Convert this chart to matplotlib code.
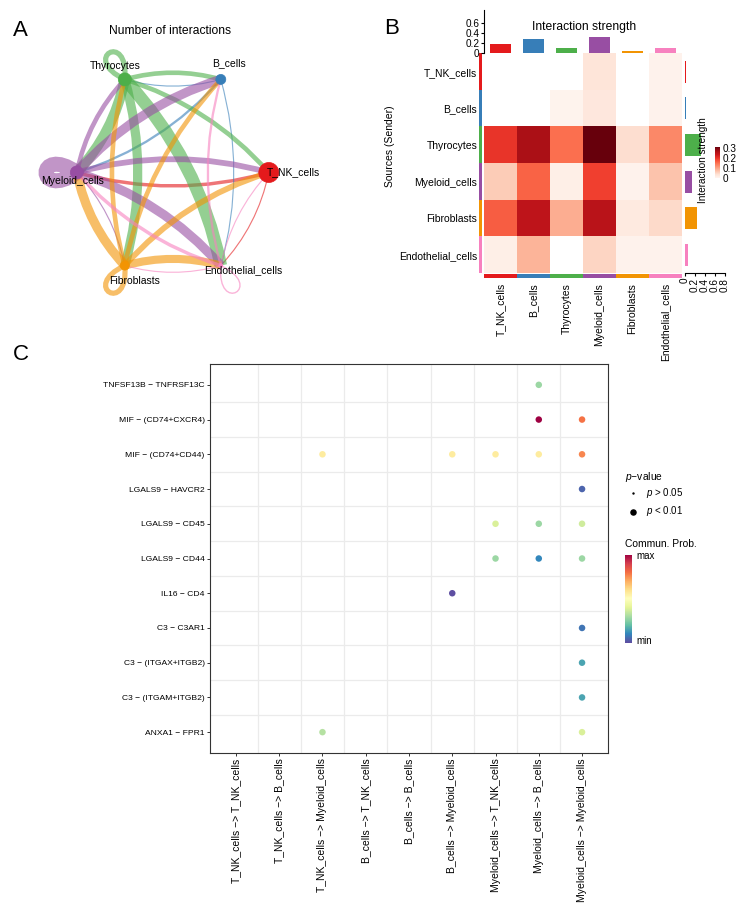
import numpy as np
import matplotlib
matplotlib.use("Agg")
import matplotlib.pyplot as plt
from matplotlib.path import Path
from matplotlib.patches import PathPatch, Circle
from matplotlib.cm import ScalarMappable
import matplotlib.colors as mcolors

plt.rcParams['font.family'] = ['Liberation Sans', 'DejaVu Sans']
plt.rcParams['mathtext.fontset'] = 'custom'
plt.rcParams['mathtext.it'] = 'Liberation Sans:italic'
plt.rcParams['mathtext.rm'] = 'Liberation Sans'

# ---------------- data ----------------
cell_types = ["T_NK_cells", "B_cells", "Thyrocytes", "Myeloid_cells", "Fibroblasts", "Endothelial_cells"]
cell_colors = ["#E41A1C", "#377EB8", "#4DAF4A", "#984EA3", "#F29403", "#F781BF"]
node_radius = [10, 5, 6.5, 6.5, 4.5, 2]

# number of interactions (rows = sender, cols = receiver)
n_interactions = [
    [0, 0, 0, 3, 0, 1],
    [0, 0, 1, 2, 0, 1],
    [4, 4, 4.5, 9, 8, 11],
    [5, 8, 4, 13, 1, 8],
    [5, 4, 4, 8, 4.5, 7],
    [1, 2, 0, 3, 1, 1.2],
]

# interaction strength (rows = sender, cols = receiver)
strength = [
    [0, 0, 0, 0.03, 0, 0.006],
    [0, 0, 0.004, 0.025, 0, 0.006],
    [0.20, 0.265, 0.15, 0.31, 0.04, 0.125],
    [0.06, 0.16, 0.012, 0.19, 0.006, 0.068],
    [0.165, 0.245, 0.09, 0.25, 0.02, 0.045],
    [0.012, 0.084, 0, 0.05, 0.006, 0.006],
]
strength_incoming = [0.17, 0.27, 0.09, 0.32, 0.035, 0.10]
strength_outgoing = [0.035, 0.025, 0.32, 0.155, 0.25, 0.065]
bar_ticks = [0, 0.2, 0.4, 0.6]
bar_ticks_right = [0, 0.2, 0.4, 0.6, 0.8]
strength_cbar_ticks = [0, 0.1, 0.2, 0.3]

lr_pairs = ["TNFSF13B \u2212 TNFRSF13C", "MIF \u2212 (CD74+CXCR4)", "MIF \u2212 (CD74+CD44)",
            "LGALS9 \u2212 HAVCR2", "LGALS9 \u2212 CD45", "LGALS9 \u2212 CD44", "IL16 \u2212 CD4",
            "C3 \u2212 C3AR1", "C3 \u2212 (ITGAX+ITGB2)", "C3 \u2212 (ITGAM+ITGB2)", "ANXA1 \u2212 FPR1"]
sender_receiver = ["T_NK_cells \u2212> T_NK_cells", "T_NK_cells \u2212> B_cells", "T_NK_cells \u2212> Myeloid_cells",
                   "B_cells \u2212> T_NK_cells", "B_cells \u2212> B_cells", "B_cells \u2212> Myeloid_cells",
                   "Myeloid_cells \u2212> T_NK_cells", "Myeloid_cells \u2212> B_cells", "Myeloid_cells \u2212> Myeloid_cells"]
nan = np.nan
comm_prob = [
    [nan, nan, nan, nan, nan, nan, nan, 0.28, nan],
    [nan, nan, nan, nan, nan, nan, nan, 1.00, 0.79],
    [nan, nan, 0.56, nan, nan, 0.56, 0.56, 0.56, 0.76],
    [nan, nan, nan, nan, nan, nan, nan, nan, 0.04],
    [nan, nan, nan, nan, nan, nan, 0.38, 0.28, 0.36],
    [nan, nan, nan, nan, nan, nan, 0.28, 0.10, 0.28],
    [nan, nan, nan, nan, nan, 0.00, nan, nan, nan],
    [nan, nan, nan, nan, nan, nan, nan, nan, 0.07],
    [nan, nan, nan, nan, nan, nan, nan, nan, 0.15],
    [nan, nan, nan, nan, nan, nan, nan, nan, 0.15],
    [nan, nan, 0.32, nan, nan, nan, nan, nan, 0.38],
]

# ---------------- figure ----------------
W, H = 748, 909
fig = plt.figure(figsize=(W / 100, H / 100), dpi=100)


def px_axes(x0, y0, x1, y1):
    return fig.add_axes([x0 / W, 1 - y1 / H, (x1 - x0) / W, (y1 - y0) / H])


# ---------------- Panel A: circle network ----------------
axA = px_axes(0, 0, 370, 310)
axA.set_xlim(0, 370)
axA.set_ylim(310, 0)
axA.axis('off')
cx, cy, rx, ry = 172.8, 172.5, 96, 107.5
angles = np.deg2rad(np.arange(6) * 60.0)
pos = np.c_[cx + rx * np.cos(angles), cy - ry * np.sin(angles)]
counts = np.array(n_interactions, float)
wmax_px = 15.0


def u(a):
    return np.array([np.cos(a), -np.sin(a)])


for i in range(6):
    for j in range(6):
        c = counts[i, j]
        if c <= 0:
            continue
        lw = c / counts.max() * wmax_px * 0.72
        p0 = pos[i]
        if i == j:
            th = angles[i]
            L, phi = 50.0, np.deg2rad(35)
            verts = [p0, p0 + L * u(th + phi), p0 + L * u(th - phi), p0]
            codes = [Path.MOVETO, Path.CURVE4, Path.CURVE4, Path.CURVE4]
        else:
            p1 = pos[j]
            d = p1 - p0
            perp = np.array([d[1], -d[0]])
            ctrl = (p0 + p1) / 2 + 0.14 * perp
            verts = [p0, ctrl, p1]
            codes = [Path.MOVETO, Path.CURVE3, Path.CURVE3]
        axA.add_patch(PathPatch(Path(verts, codes), facecolor='none', edgecolor=cell_colors[i],
                                lw=lw, alpha=0.6, capstyle='butt', zorder=2))

for i in range(6):
    axA.add_patch(Circle(pos[i], node_radius[i], facecolor=cell_colors[i],
                         edgecolor=cell_colors[i], lw=0.5, zorder=3))

label_offset = [(25, 0), (8, -16), (-10, -13), (-4, 8), (10, 15), (22, 5)]
for i in range(6):
    axA.text(pos[i][0] + label_offset[i][0], pos[i][1] + label_offset[i][1], cell_types[i],
             ha='center', va='center', fontsize=7.5, zorder=5)

# ---------------- Panel B: heatmap ----------------
S = np.array(strength, float)
vmax = 0.31
hx0, hy0, hx1, hy1 = 484.3, 53.3, 681.7, 273.3
axH = px_axes(hx0, hy0, hx1, hy1)
cmap = plt.get_cmap('Reds').copy()
cmap.set_bad('white')
axH.imshow(np.ma.masked_equal(S, 0), cmap=cmap, vmin=0, vmax=vmax, aspect='auto',
           interpolation='nearest')
axH.set_xticks(range(6))
axH.set_xticklabels(cell_types, rotation=90, fontsize=7.5)
axH.set_yticks(range(6))
axH.set_yticklabels(cell_types, fontsize=7.5)
axH.tick_params(axis='y', length=0, pad=5)
axH.tick_params(axis='x', length=0, pad=7)
for s in axH.spines.values():
    s.set_visible(False)

rgb = np.array([mcolors.to_rgb(c) for c in cell_colors])
axL = px_axes(479, hy0, 481.8, hy1)
axL.imshow(rgb[:, None, :], aspect='auto', interpolation='nearest')
axL.axis('off')
axBt = px_axes(hx0, 274, hx1, 278.3)
axBt.imshow(rgb[None, :, :], aspect='auto', interpolation='nearest')
axBt.axis('off')

# top bars
axT = px_axes(hx0, 10, hx1, 52.7)
axT.bar(range(6), strength_incoming, width=0.64, color=cell_colors)
axT.set_xlim(-0.5, 5.5)
axT.set_ylim(0, 0.854)
for k in ['top', 'right', 'bottom']:
    axT.spines[k].set_visible(False)
axT.spines['left'].set_linewidth(0.8)
axT.set_xticks([])
axT.set_yticks(bar_ticks)
axT.set_yticklabels([f"{t:g}" for t in bar_ticks], fontsize=7.2)
axT.tick_params(axis='y', length=2.2, width=0.8, pad=1.5)
axT.patch.set_alpha(0)

# right bars
axR = px_axes(684.5, hy0, 731, hy1)
axR.barh(range(6), strength_outgoing, height=0.6, color=cell_colors)
axR.set_ylim(5.5, -0.5)
axR.set_xlim(0, 0.93)
for k in ['top', 'right', 'left']:
    axR.spines[k].set_visible(False)
axR.spines['bottom'].set_bounds(0, 0.8)
axR.spines['bottom'].set_linewidth(0.8)
axR.set_yticks([])
axR.set_xticks(bar_ticks_right)
axR.set_xticklabels([f"{t:g}" for t in bar_ticks_right], fontsize=7.2, rotation=90)
axR.tick_params(axis='x', length=2.2, width=0.8, pad=1)
axR.patch.set_alpha(0)

# colorbar
cax = px_axes(715, 147, 720.3, 178)
cb = fig.colorbar(ScalarMappable(mcolors.Normalize(0, vmax), plt.get_cmap('Reds')), cax=cax)
cb.set_ticks(strength_cbar_ticks)
cb.set_ticklabels([f"{t:g}" for t in strength_cbar_ticks])
cb.outline.set_visible(False)
cax.tick_params(length=0, labelsize=7.2, pad=1.5)

# ---------------- Panel C: bubble plot ----------------
P = np.array(comm_prob, float)
axC = px_axes(210, 364, 608, 753)
rr, cc = np.where(~np.isnan(P))
axC.scatter(cc, rr, c=P[rr, cc], cmap='Spectral_r', vmin=0, vmax=1, s=22, linewidths=0, zorder=3)
axC.set_xlim(-0.6, len(sender_receiver) - 0.4)
axC.set_ylim(len(lr_pairs) - 0.4, -0.6)
axC.set_xticks(range(len(sender_receiver)))
axC.set_xticklabels(sender_receiver, rotation=90, fontsize=7.5)
axC.set_yticks(range(len(lr_pairs)))
axC.set_yticklabels(lr_pairs, fontsize=6.1)
axC.set_xticks(np.arange(0.5, len(sender_receiver) - 1, 1), minor=True)
axC.set_yticks(np.arange(0.5, len(lr_pairs) - 1, 1), minor=True)
axC.grid(which='minor', color='#EBEBEB', lw=0.9)
axC.set_axisbelow(True)
axC.tick_params(which='minor', length=0)
axC.tick_params(which='major', length=2.3, width=0.7, color='#333333', pad=1.5)
for s in axC.spines.values():
    s.set_color('#333333')
    s.set_linewidth(0.8)

# Commun. Prob. colorbar
cax2 = px_axes(625, 555, 631.7, 643)
grad = np.linspace(1, 0, 100)[:, None]
cax2.imshow(grad, cmap='Spectral_r', aspect='auto', vmin=0, vmax=1)
cax2.axis('off')

# ---------------- overlay texts ----------------
ov = fig.add_axes([0, 0, 1, 1])
ov.set_xlim(0, W)
ov.set_ylim(H, 0)
ov.axis('off')
ov.text(13, 30, "A", fontsize=16, ha='left', va='center')
ov.text(170.5, 30.7, "Number of interactions", fontsize=8.7, ha='center', va='center')
ov.text(384, 29, "B", fontsize=16, ha='left', va='center')
ov.text(584, 27, "Interaction strength", fontsize=8.7, ha='center', va='center')
ov.text(390, 146, "Sources (Sender)", fontsize=7.5, rotation=90, ha='center', va='center')
ov.text(703, 160, "Interaction strength", fontsize=7.2, rotation=90, ha='center', va='center')
ov.text(13, 355, "C", fontsize=16, ha='left', va='center')

ov.text(625, 477, "$p$\u2212value", fontsize=7.4, ha='left', va='center')
ov.scatter([633.3], [493.3], s=3, c='black', linewidths=0)
ov.scatter([633.3], [511.7], s=22, c='black', linewidths=0)
ov.text(646.5, 493, "$p$ > 0.05", fontsize=7.0, ha='left', va='center')
ov.text(646.5, 511.5, "$p$ < 0.01", fontsize=7.0, ha='left', va='center')
ov.text(625, 544.3, "Commun. Prob.", fontsize=7.4, ha='left', va='center')
ov.text(636.7, 556, "max", fontsize=7.0, ha='left', va='center')
ov.text(636.7, 641, "min", fontsize=7.0, ha='left', va='center')

fig.savefig("out.png", dpi=100)
